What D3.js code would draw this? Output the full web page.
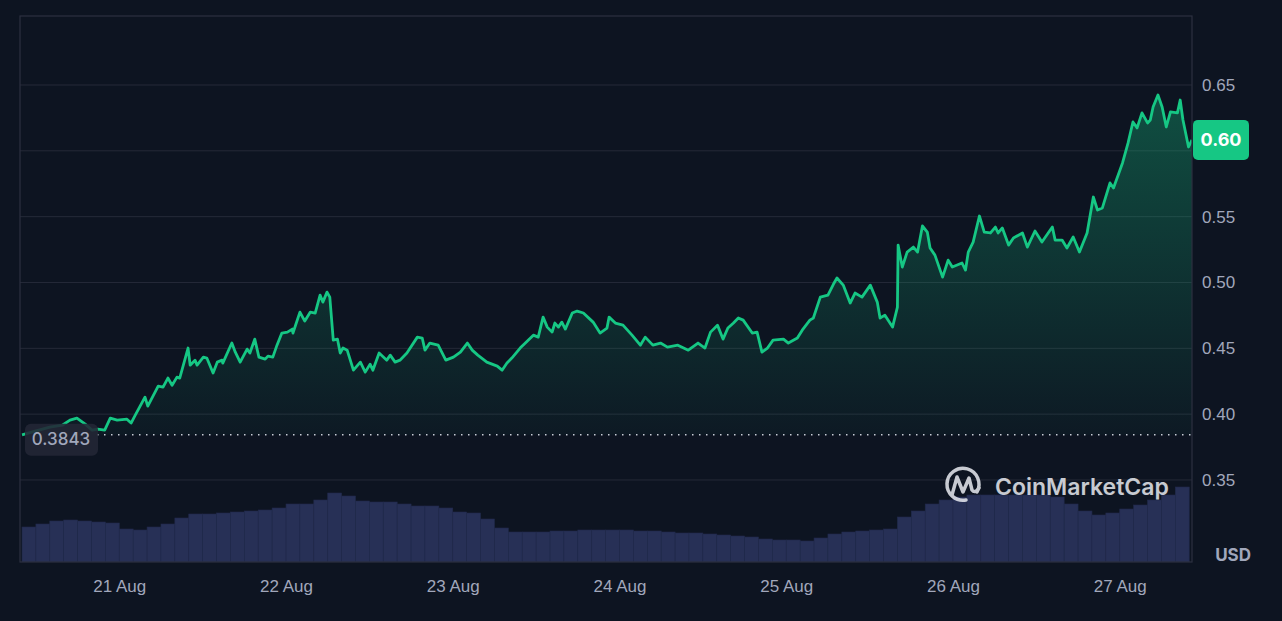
<!DOCTYPE html>
<html lang="en">
<head>
  <meta charset="UTF-8">
  <title>Price chart</title>
  <style>
    html, body {
      margin: 0;
      padding: 0;
      background: #0d1421;
    }

    svg {
      display: block;
      font-family: Inter, "Noto Sans", sans-serif;
    }

    .axis text {
      fill: #a1a7bb;
      font-size: 17px;
      font-weight: 500;
    }

    .axis path, .axis line {
      display: none;
    }
  </style>
</head>
<body>

<svg width="1282" height="621"></svg>

<script src="https://cdn.jsdelivr.net/npm/d3@7"></script>

<script>
  // hours after 20 Aug 10:00 UTC, price in USD
  const priceSeries = [
    [0, 0.3843], [1.9, 0.3871], [4.0, 0.3901], [5.8, 0.3916], [6.9, 0.3954], [7.9, 0.3970], [9.1, 0.3924],
    [10.1, 0.3878], [10.9, 0.3886], [11.9, 0.3878], [12.7, 0.3970], [13.7, 0.3954], [15.1, 0.3962],
    [15.7, 0.3932], [16.3, 0.3992], [17.7, 0.4129], [18.1, 0.4061], [19.6, 0.4213], [20.3, 0.4205],
    [21.0, 0.4274], [21.6, 0.4220], [22.3, 0.4281], [22.7, 0.4274], [23.9, 0.4502], [24.2, 0.4372],
    [24.9, 0.4410], [25.2, 0.4372], [26.1, 0.4433], [26.6, 0.4426], [27.5, 0.4312], [28.1, 0.4395],
    [28.8, 0.4410], [28.9, 0.4388], [30.2, 0.4540], [30.7, 0.4471], [31.4, 0.4395], [32.4, 0.4494],
    [32.8, 0.4464], [33.5, 0.4570], [34.1, 0.4433], [35.0, 0.4418], [35.4, 0.4441], [36.1, 0.4433],
    [36.7, 0.4524], [37.4, 0.4616], [38.2, 0.4623], [38.9, 0.4646], [39.0, 0.4616], [40.0, 0.4775],
    [40.7, 0.4707], [41.5, 0.4775], [42.2, 0.4768], [42.9, 0.4904], [43.3, 0.4851], [43.9, 0.4927],
    [44.3, 0.4889], [44.8, 0.4562], [45.4, 0.4570], [45.8, 0.4464], [46.2, 0.4502], [46.8, 0.4486],
    [47.7, 0.4334], [48.7, 0.4395], [49.4, 0.4319], [50.1, 0.4380], [50.5, 0.4334], [51.4, 0.4464],
    [52.5, 0.4410], [53.0, 0.4448], [53.7, 0.4395], [54.4, 0.4410], [55.4, 0.4464], [56.9, 0.4585],
    [57.6, 0.4578], [58.0, 0.4486], [58.7, 0.4540], [59.9, 0.4524], [61.0, 0.4410], [62.1, 0.4433],
    [63.1, 0.4471], [64.1, 0.4540], [64.8, 0.4486], [65.6, 0.4448], [66.9, 0.4395], [68.4, 0.4365],
    [69.1, 0.4334], [69.8, 0.4388], [70.5, 0.4426], [71.7, 0.4502], [73.6, 0.4600], [74.3, 0.4585],
    [75.0, 0.4737], [75.6, 0.4661], [76.3, 0.4623], [76.7, 0.4692], [77.2, 0.4661], [77.7, 0.4699],
    [78.2, 0.4646], [79.2, 0.4768], [79.9, 0.4783], [80.8, 0.4768], [82.2, 0.4699], [83.2, 0.4616],
    [84.2, 0.4654], [84.5, 0.4737], [85.4, 0.4692], [86.5, 0.4676], [87.8, 0.4600], [89.0, 0.4524],
    [89.7, 0.4585], [90.8, 0.4524], [91.9, 0.4540], [92.9, 0.4509], [94.4, 0.4524], [95.9, 0.4486],
    [97.3, 0.4540], [98.3, 0.4502], [99.1, 0.4623], [100.1, 0.4676], [100.9, 0.4570], [101.6, 0.4654],
    [102.4, 0.4692], [103.1, 0.4730], [103.8, 0.4714], [105.1, 0.4616], [105.8, 0.4623], [106.5, 0.4471],
    [107.3, 0.4502], [108.1, 0.4562], [109.6, 0.4570], [110.3, 0.4540], [111.6, 0.4578], [112.3, 0.4638],
    [113.4, 0.4714], [113.9, 0.4730], [114.9, 0.4889], [116.0, 0.4904], [116.8, 0.4988], [117.3, 0.5034],
    [118.2, 0.4980], [119.2, 0.4844], [119.9, 0.4920], [120.9, 0.4889], [122.1, 0.4980], [123.1, 0.4851],
    [123.5, 0.4730], [124.2, 0.4752], [125.3, 0.4661], [126.0, 0.4813], [126.1, 0.5284], [126.7, 0.5117],
    [127.4, 0.5231], [128.3, 0.5269], [128.9, 0.5231], [129.6, 0.5429], [130.3, 0.5383], [130.7, 0.5262],
    [131.4, 0.5208], [132.5, 0.5041], [133.3, 0.5170], [133.9, 0.5117], [135.3, 0.5148], [135.8, 0.5094],
    [136.2, 0.5231], [136.9, 0.5307], [137.8, 0.5505], [138.5, 0.5383], [139.4, 0.5376], [140.1, 0.5421],
    [140.5, 0.5376], [141.1, 0.5414], [142.0, 0.5284], [142.7, 0.5338], [144.0, 0.5376], [144.7, 0.5269],
    [145.8, 0.5391], [146.8, 0.5307], [148.3, 0.5421], [148.7, 0.5322], [149.7, 0.5322], [150.4, 0.5262],
    [151.3, 0.5345], [152.2, 0.5231], [153.3, 0.5376], [154.2, 0.5649], [154.8, 0.5550], [155.5, 0.5566],
    [156.6, 0.5756], [157.1, 0.5718], [158.4, 0.5908], [159.2, 0.6060], [159.9, 0.6219], [160.5, 0.6174],
    [161.2, 0.6288], [162.0, 0.6212], [162.4, 0.6234], [162.8, 0.6333], [163.5, 0.6424], [164.1, 0.6333],
    [164.7, 0.6181], [165.3, 0.6295], [166.3, 0.6288], [166.7, 0.6386], [167.1, 0.6234], [167.9, 0.6029],
    [168.4, 0.6083]
  ];

  // volume per 2-hour bucket (USD millions), from 20 Aug 10:00
  const volumes = [
    35, 38, 41, 42, 41, 40, 39, 33, 32, 35,
    38, 44, 48, 48, 49, 50, 51, 52, 54, 58,
    58, 62, 69, 66, 61, 60, 60, 58, 56, 56,
    54, 50, 49, 43, 34, 30, 30, 30, 31, 31,
    32, 32, 32, 32, 31, 31, 30, 29, 29, 28,
    27, 26, 25, 23, 22, 22, 21, 24, 28, 30,
    31, 32, 33, 45, 51, 58, 62, 65, 67, 67,
    67, 67, 67, 67, 65, 58, 51, 47, 49, 53,
    57, 62, 67, 75
  ];

  const priceTicks = [0.35, 0.40, 0.45, 0.50, 0.55, 0.60, 0.65];
  const openPrice = 0.3843;
  const seriesStart = Date.UTC(2024, 7, 20, 10, 0);

  const plotLeft = 20, plotRight = 1192, plotTop = 16, plotBottom = 562;
  const hour = 3600 * 1000;
  const toDate = h => new Date(seriesStart + h * hour);

  const svg = d3.select("svg");

  const x = d3.scaleUtc()
    .domain([toDate(-0.29), toDate(168.4)])
    .range([plotLeft, plotRight]);

  const y = d3.scaleLinear()
    .domain([0.2877, 0.7024])
    .range([plotBottom, plotTop]);

  const yVol = d3.scaleLinear()
    .domain([0, 100])
    .range([plotBottom, plotBottom - 100]);

  const last = priceSeries[priceSeries.length - 1];

  const defs = svg.append("defs");
  const grad = defs.append("linearGradient")
    .attr("id", "fillGrad")
    .attr("gradientUnits", "userSpaceOnUse")
    .attr("x1", 0).attr("x2", 0)
    .attr("y1", y(0.65)).attr("y2", y(openPrice));
  grad.append("stop").attr("offset", 0).attr("stop-color", "#16c784").attr("stop-opacity", 0.34);
  grad.append("stop").attr("offset", 1).attr("stop-color", "#16c784").attr("stop-opacity", 0.03);

  defs.append("clipPath").attr("id", "plotClip")
    .append("rect")
    .attr("x", plotLeft).attr("y", plotTop)
    .attr("width", plotRight - plotLeft).attr("height", plotBottom - plotTop);

  // grid
  svg.append("g")
    .selectAll("line")
    .data(priceTicks)
    .join("line")
    .attr("x1", plotLeft).attr("x2", plotRight)
    .attr("y1", d => y(d)).attr("y2", d => y(d))
    .attr("stroke", "#252a38")
    .attr("stroke-width", 1);

  // volume bars
  svg.append("g")
    .attr("clip-path", "url(#plotClip)")
    .selectAll("rect")
    .data(volumes)
    .join("rect")
    .attr("x", (d, i) => x(toDate(i * 2)))
    .attr("width", (d, i) => x(toDate(i * 2 + 2)) - x(toDate(i * 2)))
    .attr("y", d => yVol(d))
    .attr("height", d => yVol(0) - yVol(d))
    .attr("fill", "#273056")
    .attr("stroke", "#212a4b")
    .attr("stroke-width", 0.6);

  // price area and line
  const area = d3.area()
    .x(d => x(toDate(d[0])))
    .y0(y(openPrice))
    .y1(d => y(d[1]));

  const line = d3.line()
    .x(d => x(toDate(d[0])))
    .y(d => y(d[1]));

  const plot = svg.append("g").attr("clip-path", "url(#plotClip)");

  plot.append("path")
    .datum(priceSeries)
    .attr("d", area)
    .attr("fill", "url(#fillGrad)");

  plot.append("path")
    .datum(priceSeries)
    .attr("d", line)
    .attr("fill", "none")
    .attr("stroke", "#16c784")
    .attr("stroke-width", 2.8)
    .attr("stroke-linejoin", "round");

  // frame
  svg.append("rect")
    .attr("x", plotLeft).attr("y", plotTop)
    .attr("width", plotRight - plotLeft).attr("height", plotBottom - plotTop)
    .attr("fill", "none")
    .attr("stroke", "#2c3040")
    .attr("stroke-width", 1.2);

  // opening price line + label
  svg.append("line")
    .attr("x1", 97).attr("x2", plotRight)
    .attr("y1", y(openPrice)).attr("y2", y(openPrice))
    .attr("stroke", "#c8cbd6")
    .attr("stroke-width", 1.5)
    .attr("stroke-dasharray", "1.5 5.5");

  svg.append("rect")
    .attr("x", 25).attr("y", y(openPrice) - 11)
    .attr("width", 73).attr("height", 32)
    .attr("rx", 6)
    .attr("fill", "#232735")
    .attr("fill-opacity", 0.88);

  svg.append("text")
    .attr("x", 61).attr("y", y(openPrice) + 4)
    .attr("dy", "0.36em")
    .attr("text-anchor", "middle")
    .attr("fill", "#a1a7bb")
    .style("font-size", "17px")
    .style("font-weight", 500)
    .text(openPrice.toFixed(4));

  // y axis (the 0.60 label sits under the last-price badge)
  svg.append("g")
    .attr("class", "axis")
    .attr("transform", "translate(" + plotRight + ",0)")
    .call(d3.axisRight(y)
      .tickValues(priceTicks.filter(d => Math.abs(y(d) - y(last[1])) > 22))
      .tickSize(0).tickPadding(10).tickFormat(d3.format(".2f")));

  svg.append("text")
    .attr("x", 1251).attr("y", 555)
    .attr("dy", "0.36em")
    .attr("text-anchor", "end")
    .attr("fill", "#a1a7bb")
    .style("font-size", "17px")
    .style("font-weight", 700)
    .text("USD");

  // x axis
  svg.append("g")
    .attr("class", "axis")
    .attr("transform", "translate(0," + plotBottom + ")")
    .call(d3.axisBottom(x).ticks(d3.utcDay.every(1)).tickSize(0).tickPadding(18).tickFormat(d3.utcFormat("%-d %b")));

  // last price badge (price truncated to cents)
  svg.append("rect")
    .attr("x", plotRight + 1).attr("y", y(last[1]) - 20)
    .attr("width", 56).attr("height", 40)
    .attr("rx", 5)
    .attr("fill", "#16c784");

  svg.append("text")
    .attr("x", plotRight + 29).attr("y", y(last[1]))
    .attr("dy", "0.36em")
    .attr("text-anchor", "middle")
    .attr("fill", "#ffffff")
    .style("font-size", "18px")
    .style("font-weight", 700)
    .text((Math.floor(last[1] * 100) / 100).toFixed(2));

  // watermark
  const mark = svg.append("g").attr("opacity", 0.85);
  mark.append("path")
    .attr("d", "M977,492 A16,16 0 1 0 966,500")
    .attr("fill", "none")
    .attr("stroke", "#e8eaf0")
    .attr("stroke-width", 3.5)
    .attr("stroke-linecap", "round");
  mark.append("path")
    .attr("d", "M952,495 L957,477 L963,492 L969,478 L972,490 Q975,494 979,488")
    .attr("fill", "none")
    .attr("stroke", "#e8eaf0")
    .attr("stroke-width", 3.5)
    .attr("stroke-linejoin", "round")
    .attr("stroke-linecap", "round");
  mark.append("text")
    .attr("x", 995).attr("y", 487)
    .attr("dy", "0.36em")
    .attr("fill", "#e8eaf0")
    .style("font-size", "23px")
    .style("font-weight", 600)
    .text("CoinMarketCap");
</script>
</body>
</html>
